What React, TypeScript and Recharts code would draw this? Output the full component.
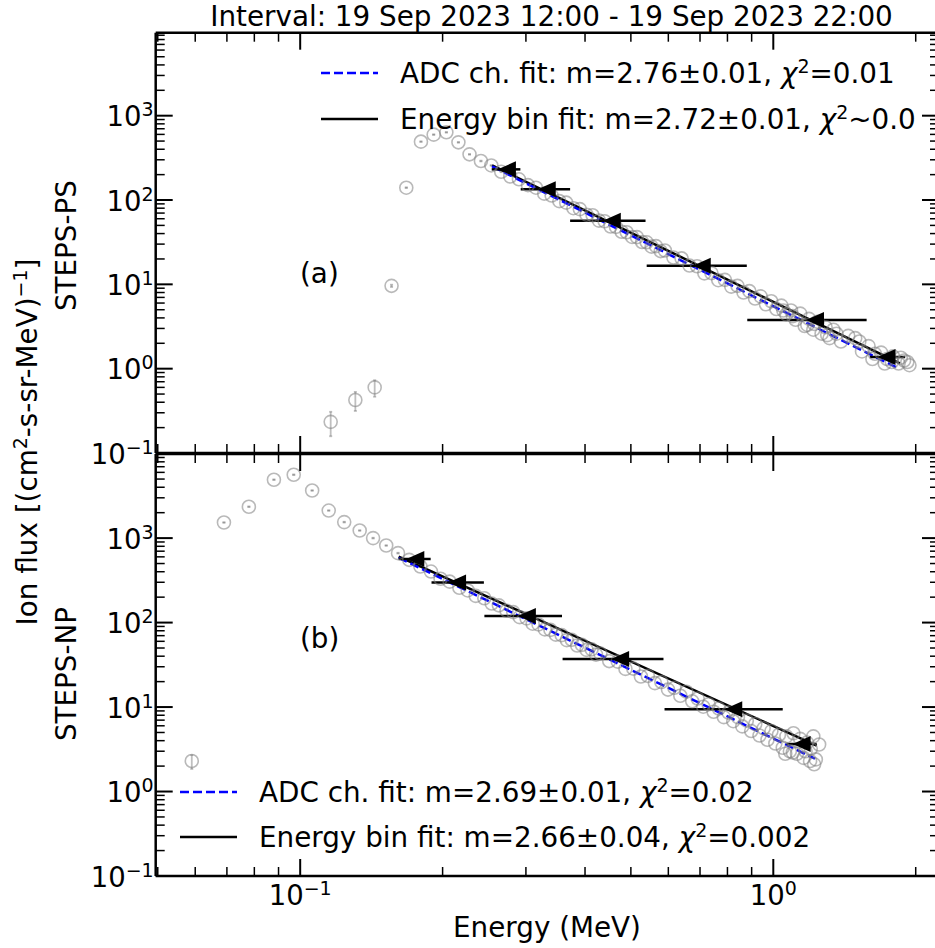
import React from "react";
import { ComposedChart, Scatter, Line, XAxis, YAxis, ErrorBar } from "recharts";

const FONT = "DejaVu Sans";
const FS = 27.5;
const FS_TXT = 27.8;

// ---------- axis ticks ----------
const xTicks = [0.05, 0.06, 0.07, 0.08, 0.09, 0.1, 0.2, 0.3, 0.4, 0.5, 0.6, 0.7, 0.8, 0.9, 1, 2];
const yTicks = [
  0.1, 0.2, 0.3, 0.4, 0.5, 0.6, 0.7, 0.8, 0.9,
  1, 2, 3, 4, 5, 6, 7, 8, 9,
  10, 20, 30, 40, 50, 60, 70, 80, 90,
  100, 200, 300, 400, 500, 600, 700, 800, 900,
  1000, 2000, 3000, 4000, 5000, 6000, 7000, 8000, 9000,
];
const xDomain = [0.0495, 2.24];
const psYDomain = [0.1, 9640];
const npYDomain = [0.1, 9900];

// ---------- STEPS-PS (a) ----------
const psSparseE = [0.116, 0.1308, 0.1437, 0.156, 0.1676, 0.18, 0.1915, 0.2037, 0.216, 0.228, 0.241, 0.2535, 0.266];
const psSparseF = [0.234, 0.425, 0.6, 9.6, 140, 492, 596, 635, 483, 348, 290, 257, 216];
const psSparseErrLo = [0.076, 0.11, 0.135, 0.3, 1.5, 5, 6, 6, 5, 3.5, 3, 2.6, 2.2];
const psSparseErrHi = [0.074, 0.105, 0.13, 0.3, 1.5, 5, 6, 6, 5, 3.5, 3, 2.6, 2.2];

const psDenseE = [
  0.278, 0.29, 0.303, 0.315, 0.328, 0.34, 0.353, 0.365, 0.378, 0.39,
  0.403, 0.415, 0.428, 0.44, 0.453, 0.465, 0.478, 0.49, 0.503, 0.515,
  0.528, 0.54, 0.553, 0.565, 0.578, 0.59,
  0.615, 0.64, 0.665, 0.69, 0.715, 0.74, 0.765, 0.79, 0.815, 0.84,
  0.865, 0.89, 0.915, 0.94, 0.965, 0.99, 1.015, 1.04, 1.065, 1.09,
  1.115, 1.14, 1.165, 1.19, 1.215, 1.24, 1.265, 1.29, 1.315, 1.34,
  1.39, 1.44, 1.49, 1.54, 1.59, 1.64, 1.69, 1.74, 1.79, 1.84,
  1.89, 1.94,
  1.05, 1.1, 1.18, 1.22, 1.3, 1.36, 1.52, 1.62, 1.72, 1.78, 1.86, 1.92,
];
const psDenseF = [
  190, 176, 150, 140, 119, 113, 97, 93, 80, 78,
  67, 66, 57, 56, 48.5, 48, 42, 41.5, 36.5, 36.3,
  31.8, 31.5, 28, 28.4, 24.8, 25.2,
  20.8, 20.3, 16.7, 16.4, 13.5, 13.6, 11.2, 11.3, 9.4, 9.6,
  8.0, 8.3, 6.8, 7.2, 5.8, 6.3, 5.1, 5.6, 4.4, 4.9,
  3.8, 4.5, 3.2, 3.9, 2.9, 3.6, 2.6, 3.1, 2.3, 2.9,
  2.1, 2.45, 2.3, 1.6, 1.85, 1.5, 1.55, 1.3, 1.4, 1.15,
  1.25, 1.1,
  4.9, 4.2, 3.3, 3.4, 2.5, 2.6, 2.1, 1.3, 1.15, 1.2, 1.35, 1.2,
];

const psBinE = [0.2735, 0.332, 0.4557, 0.706, 1.225, 1.735];
const psBinF = [231, 134, 56.8, 16.6, 3.77, 1.38];
const psBinLo = [0.254, 0.2925, 0.372, 0.54, 0.881, 1.6];
const psBinHi = [0.292, 0.372, 0.537, 0.879, 1.575, 1.9];

const psAdcFitE = [0.2545, 1.836];
const psAdcFitF = [250, 1.01];
const psBinFitE = [0.2545, 1.852];
const psBinFitF = [258, 1.156];

// ---------- STEPS-NP (b) ----------
const npSparseE = [0.059, 0.069, 0.0779, 0.088, 0.0969, 0.106, 0.1149, 0.1239, 0.1336, 0.1426, 0.152, 0.161, 0.17, 0.1795, 0.189];
const npSparseF = [2.3, 1530, 2350, 4910, 5620, 3660, 2120, 1547, 1230, 1000, 817, 664, 553, 461, 402];
const npSparseErrLo = [0.45, 15, 23, 48, 55, 36, 21, 15, 12, 10, 8, 6.5, 5.5, 4.5, 4];
const npSparseErrHi = [0.4, 15, 23, 48, 55, 36, 21, 15, 12, 10, 8, 6.5, 5.5, 4.5, 4];

const npDenseE = [
  0.198, 0.207, 0.217, 0.226, 0.235, 0.245, 0.254, 0.263, 0.273, 0.282,
  0.291, 0.301, 0.31, 0.319, 0.329, 0.338, 0.347, 0.357, 0.366, 0.375,
  0.385, 0.394, 0.403, 0.413, 0.422, 0.431,
  0.45, 0.469, 0.487, 0.506, 0.525, 0.543, 0.562, 0.58, 0.599, 0.618,
  0.636, 0.655, 0.674, 0.692, 0.711, 0.73, 0.748, 0.767, 0.786, 0.804,
  0.823, 0.842, 0.86, 0.879, 0.898, 0.916, 0.935, 0.954, 0.972, 0.991,
  1.01, 1.028, 1.047, 1.066, 1.084, 1.103, 1.122, 1.14, 1.159, 1.178,
  1.196, 1.215, 1.23,
  1.2, 1.22, 1.17, 1.25, 1.1, 1.06,
];
const npDenseF = [
  330, 305, 258, 240, 207, 194, 168, 160, 138, 133,
  116, 112, 97, 95, 83, 82, 72, 71, 62, 62.5,
  53.5, 54.5, 47.5, 48.2, 41.8, 43,
  35, 34.5, 28.3, 28.5, 23, 23.4, 19.2, 19.8, 16.1, 16.9,
  13.6, 15.2, 11.7, 12.6, 10.1, 10.8, 8.8, 9.6, 7.6, 8.6,
  6.8, 7.6, 5.9, 6.9, 5.2, 6.3, 4.6, 5.6, 4.1, 5.2,
  3.7, 4.7, 3.3, 4.5, 3.0, 4.9, 2.8, 4.2, 2.5, 3.8,
  2.3, 4.5, 2.4,
  3.2, 2.1, 3.0, 3.6, 2.9, 2.8,
];

const npBinE = [0.1751, 0.2146, 0.3014, 0.4745, 0.823, 1.148];
const npBinF = [564, 298, 120, 37.1, 9.42, 3.65];
const npBinLo = [0.1615, 0.1895, 0.2451, 0.3586, 0.589, 1.067];
const npBinHi = [0.1887, 0.2445, 0.3576, 0.586, 1.047, 1.235];

const npAdcFitE = [0.1615, 1.225];
const npAdcFitF = [585, 2.45];
const npBinFitE = [0.1615, 1.235];
const npBinFitF = [605, 3.5];

// ---------- helpers ----------
const pts = (xs: number[], ys: number[]) => xs.map((x, i) => ({ x, y: ys[i] }));
const ptsErr = (xs: number[], ys: number[], lo: number[], hi: number[]) =>
  xs.map((x, i) => ({ x, y: ys[i], err: [lo[i], hi[i]] }));
const binPts = (xs: number[], ys: number[], lo: number[], hi: number[]) =>
  xs.map((x, i) => ({ x, y: ys[i], xerr: [x - lo[i], hi[i] - x] }));

const isMajor = (v: number) => Math.abs(Math.log10(v) - Math.round(Math.log10(v))) < 1e-9;
const supText = (e: number) => (e < 0 ? "\u2212" + -e : String(e));

const PowText = ({ x, y, v, anchor }: any) => (
  <text x={x} y={y} textAnchor={anchor} fontFamily={FONT} fontSize={FS} fill="#000">
    10
    <tspan dy={-10} fontSize={19}>
      {supText(Math.round(Math.log10(v)))}
    </tspan>
  </text>
);

const makeTick = (side: string, labels: boolean) => (props: any) => {
  const { x, y, payload } = props;
  const v = payload.value;
  const major = isMajor(v);
  const len = major ? 17 : 9;
  const sw = major ? 2 : 1.5;
  let x2 = x;
  let y2 = y;
  if (side === "bottom") y2 = y - len;
  if (side === "top") y2 = y + len;
  if (side === "left") x2 = x + len;
  if (side === "right") x2 = x - len;
  return (
    <g>
      <line x1={x} y1={y} x2={x2} y2={y2} stroke="#000" strokeWidth={sw} />
      {labels && major && side === "bottom" && <PowText x={x} y={y + 29} v={v} anchor="middle" />}
      {labels && major && side === "left" && <PowText x={x - 2} y={y + 10.5} v={v} anchor="end" />}
    </g>
  );
};

const Circle = (p: any) => (
  <circle cx={p.cx} cy={p.cy} r={6.5} fill="none" stroke="#808080" strokeOpacity={0.55} strokeWidth={1.6} />
);
const Tri = (p: any) => (
  <path d={`M${p.cx - 9},${p.cy} L${p.cx + 9},${p.cy - 8} L${p.cx + 9},${p.cy + 8} Z`} fill="#000" />
);

const axisLine = { stroke: "#000", strokeWidth: 2.5 };
const PLOT_LEFT = 155.7;
const PLOT_RIGHT = 939;
const CW = 950;
const CH = 948;

function Panel(props: any) {
  const { top, bottom, yDomain, sparse, dense, bins, adcFit, binFit, xLabels } = props;
  const common = {
    type: "number" as const,
    scale: "log" as const,
    allowDataOverflow: true,
    interval: 0 as const,
    tickLine: false,
    tickSize: 0,
    tickMargin: 0,
    axisLine,
  };
  return (
    <ComposedChart
      width={CW}
      height={CH}
      margin={{ top: top - 1, bottom: CH - bottom - 1, left: PLOT_LEFT - 1, right: CW - PLOT_RIGHT - 1 }}
    >
      <XAxis xAxisId="b" dataKey="x" orientation="bottom" domain={xDomain} ticks={xTicks} height={1} tick={makeTick("bottom", xLabels)} {...common} />
      <XAxis xAxisId="t" dataKey="x" orientation="top" domain={xDomain} ticks={xTicks} height={1} tick={makeTick("top", false)} {...common} />
      <YAxis yAxisId="l" dataKey="y" orientation="left" domain={yDomain} ticks={yTicks} width={1} tick={makeTick("left", true)} {...common} />
      <YAxis yAxisId="r" dataKey="y" orientation="right" domain={yDomain} ticks={yTicks} width={1} tick={makeTick("right", false)} {...common} />
      <Scatter xAxisId="b" yAxisId="l" data={dense} shape={Circle} isAnimationActive={false} />
      <Scatter xAxisId="b" yAxisId="l" data={sparse} shape={Circle} isAnimationActive={false}>
        <ErrorBar dataKey="err" direction="y" width={1.5} stroke="#808080" strokeOpacity={0.5} strokeWidth={1.8} isAnimationActive={false} />
      </Scatter>
      <Line xAxisId="b" yAxisId="l" data={binFit} dataKey="y" type="linear" stroke="#000" strokeWidth={2.5} dot={false} activeDot={false} isAnimationActive={false} />
      <Line xAxisId="b" yAxisId="l" data={adcFit} dataKey="y" type="linear" stroke="#0000ff" strokeWidth={2.5} strokeDasharray="9 4" dot={false} activeDot={false} isAnimationActive={false} />
      <Scatter xAxisId="b" yAxisId="l" data={bins} shape={Tri} isAnimationActive={false}>
        <ErrorBar dataKey="xerr" direction="x" width={0} stroke="#000" strokeWidth={2.5} isAnimationActive={false} />
      </Scatter>
    </ComposedChart>
  );
}

const Chi = ({ rest }: { rest: string }) => (
  <>
    <tspan fontStyle="italic">χ</tspan>
    <tspan dy={-10} fontSize={19}>2</tspan>
    <tspan dy={10}>{rest}</tspan>
  </>
);

const LegendRow = ({ x, y, dashed, pre, rest }: any) => (
  <g>
    <line x1={x} y1={y} x2={x + 57} y2={y} stroke={dashed ? "#0000ff" : "#000"} strokeWidth={2.5} strokeDasharray={dashed ? "9 4" : undefined} />
    <text x={x + 79} y={y + 10} fontFamily={FONT} fontSize={FS_TXT} fill="#000">
      {pre}
      <Chi rest={rest} />
    </text>
  </g>
);

export default function App() {
  return (
    <div style={{ position: "absolute", left: 0, top: 0, width: 935, height: 948, overflow: "hidden", background: "#fff" }}>
      <div style={{ position: "absolute", left: 0, top: 0 }}>
        <Panel
          top={32.7}
          bottom={453}
          yDomain={psYDomain}
          sparse={ptsErr(psSparseE, psSparseF, psSparseErrLo, psSparseErrHi)}
          dense={pts(psDenseE, psDenseF)}
          bins={binPts(psBinE, psBinF, psBinLo, psBinHi)}
          adcFit={pts(psAdcFitE, psAdcFitF)}
          binFit={pts(psBinFitE, psBinFitF)}
          xLabels={false}
        />
      </div>
      <div style={{ position: "absolute", left: 0, top: 0 }}>
        <Panel
          top={454}
          bottom={876}
          yDomain={npYDomain}
          sparse={ptsErr(npSparseE, npSparseF, npSparseErrLo, npSparseErrHi)}
          dense={pts(npDenseE, npDenseF)}
          bins={binPts(npBinE, npBinF, npBinLo, npBinHi)}
          adcFit={pts(npAdcFitE, npAdcFitF)}
          binFit={pts(npBinFitE, npBinFitF)}
          xLabels={true}
        />
      </div>
      <svg width={935} height={948} style={{ position: "absolute", left: 0, top: 0, pointerEvents: "none" }}>
        <text x={551.5} y={26} textAnchor="middle" fontFamily={FONT} fontSize={FS_TXT} fill="#000">
          Interval: 19 Sep 2023 12:00 - 19 Sep 2023 22:00
        </text>
        <text x={547} y={937} textAnchor="middle" fontFamily={FONT} fontSize={FS_TXT} fill="#000">
          Energy (MeV)
        </text>
        <text x={37} y={442} transform="rotate(-90 37 442)" textAnchor="middle" fontFamily={FONT} fontSize={FS_TXT} fill="#000">
          Ion flux [(cm
          <tspan dy={-10} fontSize={19}>2</tspan>
          <tspan dy={10}>-s-sr-MeV)</tspan>
          <tspan dy={-10} fontSize={19}>{"\u22121"}</tspan>
          <tspan dy={10}>]</tspan>
        </text>
        <text x={76} y={245.6} transform="rotate(-90 76 245.6)" textAnchor="middle" fontFamily={FONT} fontSize={FS_TXT} fill="#000">
          STEPS-PS
        </text>
        <text x={76} y={674} transform="rotate(-90 76 674)" textAnchor="middle" fontFamily={FONT} fontSize={FS_TXT} fill="#000">
          STEPS-NP
        </text>
        <text x={300} y={283} fontFamily={FONT} fontSize={FS_TXT} fill="#000">(a)</text>
        <text x={300} y={648} fontFamily={FONT} fontSize={FS_TXT} fill="#000">(b)</text>
        <LegendRow x={321} y={73} dashed pre="ADC ch. fit: m=2.76±0.01, " rest="=0.01" />
        <LegendRow x={321} y={119} pre="Energy bin fit: m=2.72±0.01, " rest="~0.0" />
        <LegendRow x={180} y={792} dashed pre="ADC ch. fit: m=2.69±0.01, " rest="=0.02" />
        <LegendRow x={180} y={837} pre="Energy bin fit: m=2.66±0.04, " rest="=0.002" />
      </svg>
    </div>
  );
}
